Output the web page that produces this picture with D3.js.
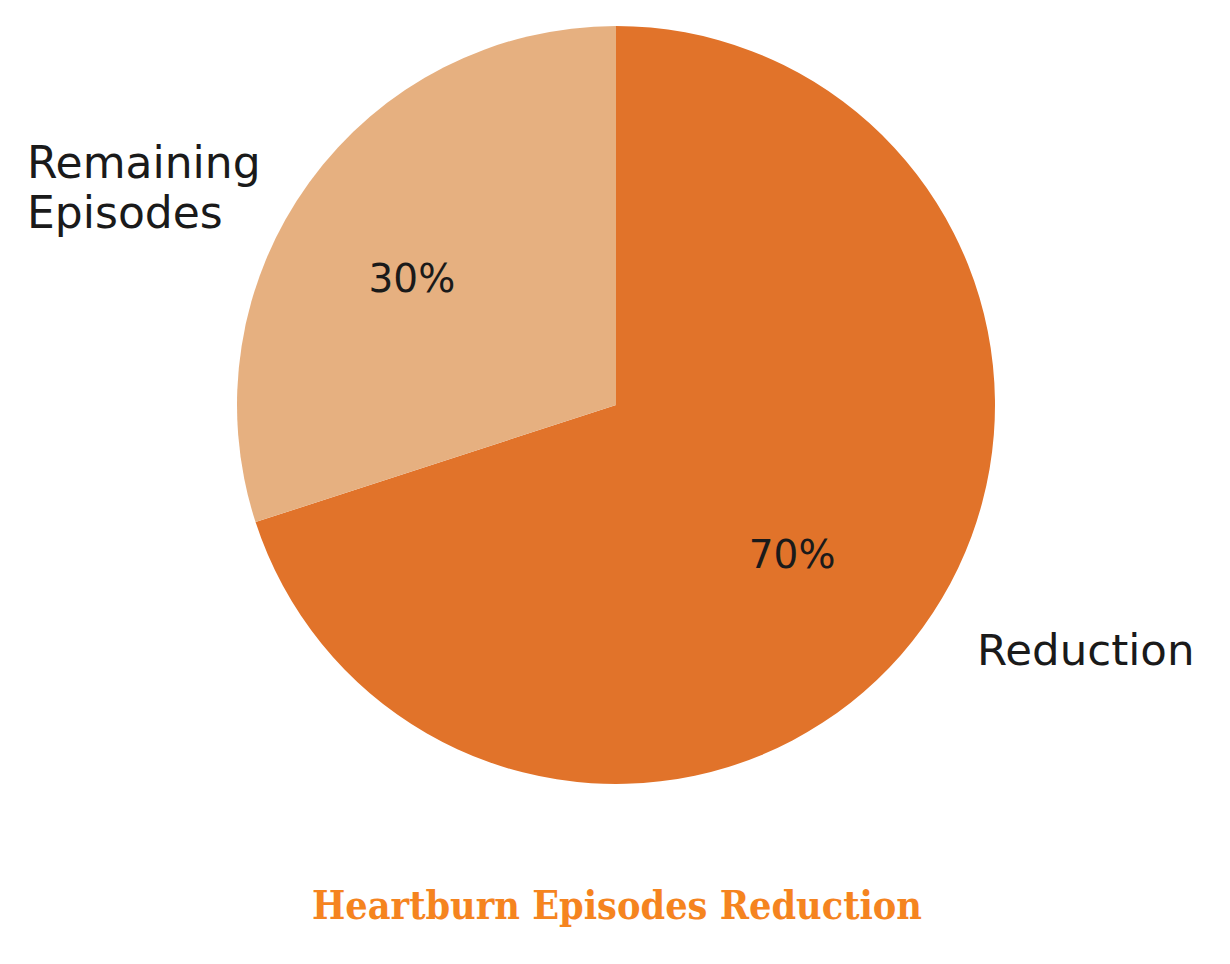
<!DOCTYPE html>
<html><head><meta charset="utf-8">
<script src="https://cdn.jsdelivr.net/npm/d3@7"></script>
<style>body{margin:0;background:#fff}</style>
</head><body>
<svg id="c" width="1230" height="964"></svg>
<script>
const categories = ["Reduction", "Remaining Episodes"];
const values = [70, 30];
const pctLabels = ["70%", "30%"];
const colors = ["#E1732A", "#E6B080"];
const title = "Heartburn Episodes Reduction";

const svg = d3.select("#c");
const cx = 616, cy = 405, r = 379;
const g = svg.append("g").attr("transform", `translate(${cx},${cy})`);
const pie = d3.pie().sort(null).value(d => d)(values);
const arc = d3.arc().innerRadius(0).outerRadius(r);
g.selectAll("path").data(pie).join("path")
  .attr("d", arc).attr("fill", (d, i) => colors[i]);

const font = "'DejaVu Sans', sans-serif";
const pctArc = d3.arc().innerRadius(r * 0.62).outerRadius(r * 0.62);
g.append("g").attr("transform", "translate(-14,11)")
  .selectAll("text.pct").data(pie).join("text").attr("class", "pct")
  .attr("transform", d => { const c = pctArc.centroid(d); return `translate(${c[0]},${c[1]})`; })
  .attr("text-anchor", "middle").attr("dy", "0.36em")
  .style("font-family", font).style("font-size", "39px").attr("fill", "#1a1a1a")
  .text((d, i) => pctLabels[i]);

// category labels
const lab = svg.append("g").style("font-family", font).attr("fill", "#1a1a1a");
lab.append("text").attr("x", 977).attr("y", 665).style("font-size", "43.5px").text(categories[0]);
const t2 = lab.append("text").attr("x", 27).attr("y", 178).style("font-size", "44px");
categories[1].split(" ").forEach((w, i) => t2.append("tspan").attr("x", 27).attr("dy", i ? 50 : 0).text(w));

svg.append("text").attr("x", 312).attr("y", 919)
  .attr("textLength", 610).attr("lengthAdjust", "spacingAndGlyphs")
  .style("font-family", "'DejaVu Serif', serif").style("font-weight", "bold").style("font-size", "40px")
  .attr("fill", "#F5841F").text(title);
</script>
</body></html>
